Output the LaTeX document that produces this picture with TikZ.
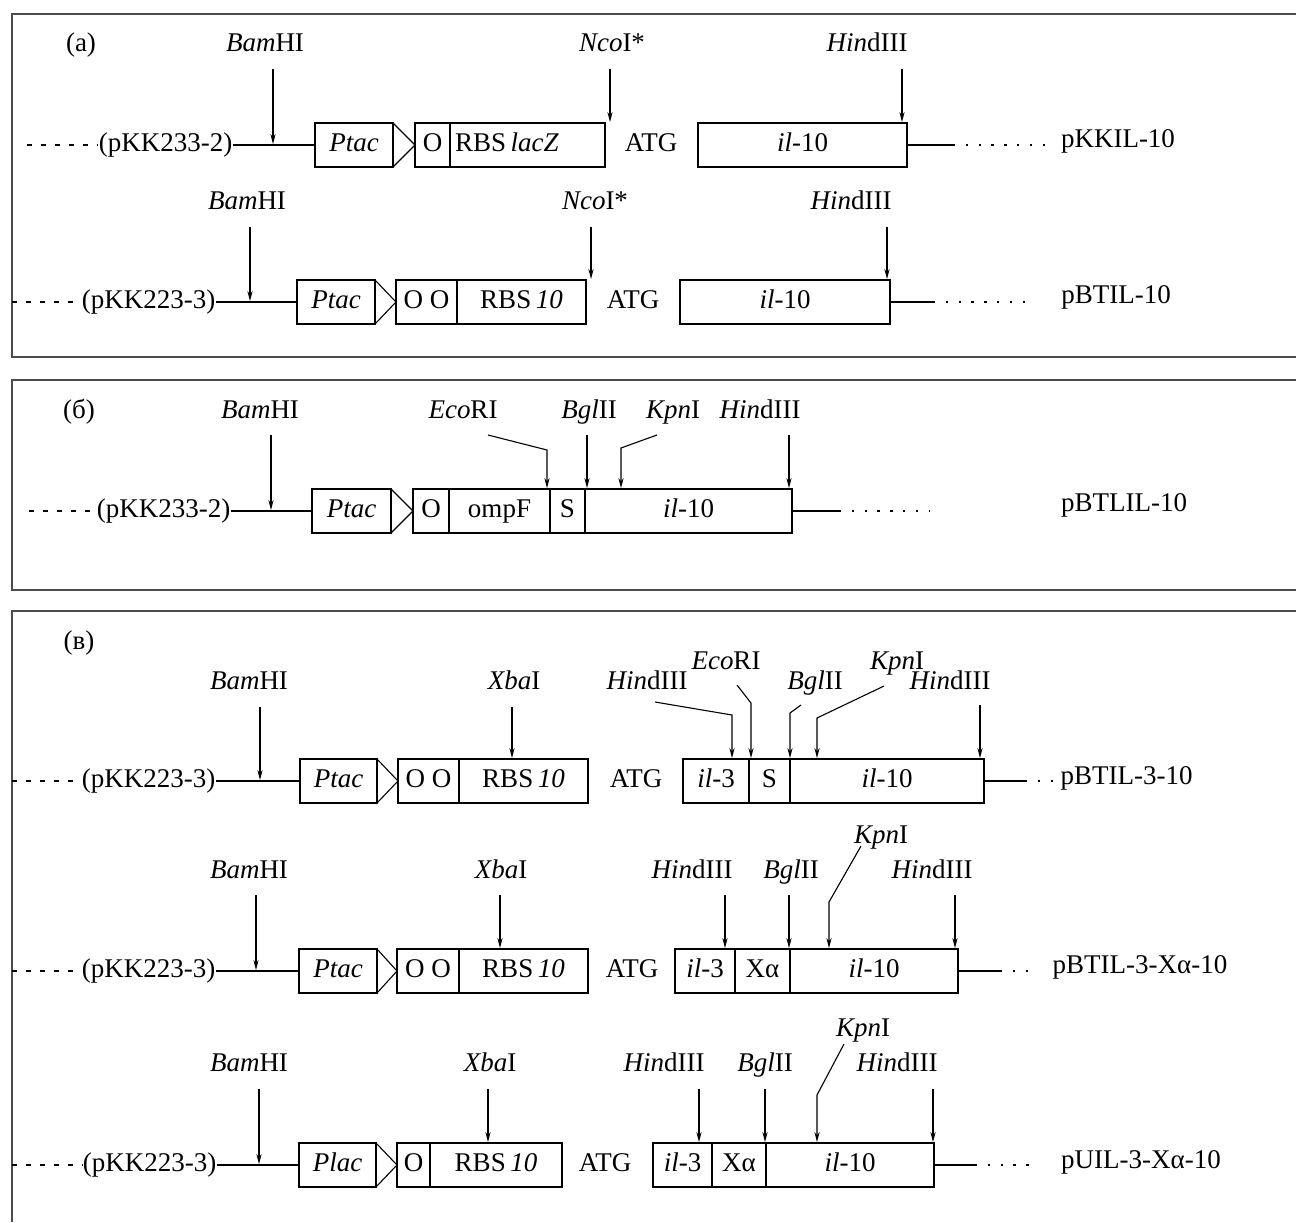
\documentclass[tikz,border=0pt]{standalone}
\usepackage{fontspec}
\setmainfont{Liberation Serif}
\usetikzlibrary{positioning,arrows.meta}

\begin{document}
\begin{tikzpicture}[x=0.5pt, y=-0.5pt, line width=0.55pt, >={Stealth[length=5pt,width=2.6pt]},
    font=\fontsize{13.5pt}{16pt}\selectfont,
    box/.style={draw, minimum height=22pt, inner sep=0pt, outer sep=0pt, anchor=west,
      text height=9.5pt, text depth=3pt},
    lbl/.style={inner sep=0pt, text height=9.5pt, text depth=3pt},
    cutarrow/.style={->, shorten >=0.5pt},
    dashleft/.style={dash pattern=on 2.5pt off 4.5pt},
    dashright/.style={dash pattern=on 1.2pt off 5.2pt},
    panel/.style={draw=black!70, line width=0.8pt}]
    \useasboundingbox (0,0) rectangle (1296,1222);
    % panel frames, open at the right edge
    \draw[panel] (1296,14) -- (12,14) -- (12,357) -- (1296,357);
    \draw[panel] (1296,380) -- (12,380) -- (12,590) -- (1296,590);
    \draw[panel] (1296,611) -- (12,611) -- (12,1222);
    \node[lbl] (pa) at (81,45) {(a)};
    \node[lbl] (pb) at (79,412) {(б)};
    \node[lbl] (pc) at (79,643) {(в)};

    % (a) upper: pKKIL-10
    \node[lbl, anchor=east] (pkkA) at (233,145) {(pKK233-2)};
    \node[box, minimum width=39pt] (ptacA) at (315,145) {\textit{Ptac}};
    \node[box, minimum width=17.5pt, right=11pt of ptacA] (oA) {O};
    \node[box, text width=72.5pt, inner xsep=2.5pt, align=left, right=0pt of oA] (rbsA) {RBS\,\textit{lacZ}};
    \node[lbl] (atgA) at (651,145) {ATG};
    \node[box, minimum width=104.5pt] (ilA) at (698,145) {\textit{il}-10};
    \node[lbl] (nameA) at (1118,141) {pKKIL-10};
    \coordinate (dA) at (27,145);
    \coordinate (eA) at (953,145);
    \coordinate (fA) at (1047,145);
    \draw[dashleft] (dA) -- (pkkA.west);
    \draw (pkkA.east) -- (ptacA.west);
    \draw (ptacA.north east) -- (oA.west) -- (ptacA.south east);
    \draw (ilA.east) -- (eA);
    \draw[dashright] (eA) -- (fA);
    \node[lbl] (bamA) at (265,45) {\textit{Bam}HI};
    \node[lbl] (ncoA) at (612,45) {\textit{Nco}I*};
    \node[lbl] (hindA) at (867,45) {\textit{Hin}dIII};
    \coordinate (bamAs) at (273,69);
    \coordinate (ncoAs) at (610,69);
    \coordinate (hindAs) at (902,69);
    \draw[cutarrow] (bamAs) -- (bamAs |- ptacA.west);
    \draw[cutarrow] (ncoAs) -- (ncoAs |- rbsA.north);
    \draw[cutarrow] (hindAs) -- (hindAs |- ilA.north);

    % (a) lower: pBTIL-10
    \node[lbl, anchor=east] (pkkB) at (216,302) {(pKK223-3)};
    \node[box, minimum width=39pt] (ptacB) at (297,302) {\textit{Ptac}};
    \node[box, minimum width=30.5pt, right=10.5pt of ptacB] (oB) {O O};
    \node[box, minimum width=64.5pt, right=0pt of oB] (rbsB) {RBS\,\textit{10}};
    \node[lbl] (atgB) at (633,302) {ATG};
    \node[box, minimum width=105pt] (ilB) at (680,302) {\textit{il}-10};
    \node[lbl] (nameB) at (1116,297) {pBTIL-10};
    \coordinate (dB) at (12,302);
    \coordinate (eB) at (933,302);
    \coordinate (fB) at (1027,302);
    \draw[dashleft] (dB) -- (pkkB.west);
    \draw (pkkB.east) -- (ptacB.west);
    \draw (ptacB.north east) -- (oB.west) -- (ptacB.south east);
    \draw (ilB.east) -- (eB);
    \draw[dashright] (eB) -- (fB);
    \node[lbl] (bamB) at (247,203) {\textit{Bam}HI};
    \node[lbl] (ncoB) at (595,203) {\textit{Nco}I*};
    \node[lbl] (hindB) at (851,203) {\textit{Hin}dIII};
    \coordinate (bamBs) at (250,227);
    \coordinate (ncoBs) at (591,227);
    \coordinate (hindBs) at (887,227);
    \draw[cutarrow] (bamBs) -- (bamBs |- ptacB.west);
    \draw[cutarrow] (ncoBs) -- (ncoBs |- rbsB.north);
    \draw[cutarrow] (hindBs) -- (hindBs |- ilB.north);

    % (b): pBTLIL-10
    \node[lbl, anchor=east] (pkkC) at (231,511) {(pKK233-2)};
    \node[box, minimum width=39.5pt] (ptacC) at (312,511) {\textit{Ptac}};
    \node[box, minimum width=18pt, right=11pt of ptacC] (oC) {O};
    \node[box, minimum width=50.5pt, right=0pt of oC] (ompC) {ompF};
    \node[box, minimum width=17.5pt, right=0pt of ompC] (sC) {S};
    \node[box, minimum width=103.5pt, right=0pt of sC] (ilC) {\textit{il}-10};
    \node[lbl] (nameC) at (1124,505) {pBTLIL-10};
    \coordinate (dC) at (29,511);
    \coordinate (eC) at (839,511);
    \coordinate (fC) at (930,511);
    \draw[dashleft] (dC) -- (pkkC.west);
    \draw (pkkC.east) -- (ptacC.west);
    \draw (ptacC.north east) -- (oC.west) -- (ptacC.south east);
    \draw (ilC.east) -- (eC);
    \draw[dashright] (eC) -- (fC);
    \node[lbl] (bamC) at (260,412) {\textit{Bam}HI};
    \node[lbl] (ecoC) at (463,412) {\textit{Eco}RI};
    \node[lbl] (bglC) at (589,412) {\textit{Bgl}II};
    \node[lbl] (kpnC) at (673,412) {\textit{Kpn}I};
    \node[lbl] (hindC) at (760,412) {\textit{Hin}dIII};
    \coordinate (bamCs) at (271,435);
    \coordinate (ecoCs) at (488,435);
    \coordinate (ecoCk) at (547,450);
    \coordinate (bglCs) at (587,435);
    \coordinate (kpnCs) at (657,435);
    \coordinate (kpnCk) at (621,448);
    \coordinate (hindCs) at (789,435);
    \draw[cutarrow] (bamCs) -- (bamCs |- ptacC.west);
    \draw[cutarrow] (ecoCs) -- (ecoCk) -- (ecoCk |- ompC.north);
    \draw[cutarrow] (bglCs) -- (bglCs |- sC.north);
    \draw[cutarrow] (kpnCs) -- (kpnCk) -- (kpnCk |- ilC.north);
    \draw[cutarrow] (hindCs) -- (hindCs |- ilC.north);

    % (c) first: pBTIL-3-10
    \node[lbl, anchor=east] (pkkD) at (216,781) {(pKK223-3)};
    \node[box, minimum width=38.5pt] (ptacD) at (300,781) {\textit{Ptac}};
    \node[box, minimum width=30.5pt, right=10.5pt of ptacD] (oD) {O O};
    \node[box, minimum width=64.5pt, right=0pt of oD] (rbsD) {RBS\,\textit{10}};
    \node[lbl] (atgD) at (636,781) {ATG};
    \node[box, minimum width=33pt] (il3D) at (683,781) {\textit{il}-3};
    \node[box, minimum width=20.5pt, right=0pt of il3D] (sD) {S};
    \node[box, minimum width=97pt, right=0pt of sD] (ilD) {\textit{il}-10};
    \node[lbl, anchor=west] (nameD) at (1060,778) {pBTIL-3-10};
    \coordinate (dD) at (12,781);
    \coordinate (eD) at (1025,781);
    \coordinate (fD) at (1058,781);
    \draw[dashleft] (dD) -- (pkkD.west);
    \draw (pkkD.east) -- (ptacD.west);
    \draw (ptacD.north east) -- (oD.west) -- (ptacD.south east);
    \draw (ilD.east) -- (eD);
    \draw[dashright] (eD) -- (fD);
    \node[lbl] (bamD) at (249,683) {\textit{Bam}HI};
    \node[lbl] (xbaD) at (514,683) {\textit{Xba}I};
    \node[lbl] (hindD) at (647,683) {\textit{Hin}dIII};
    \node[lbl] (ecoD) at (726,663) {\textit{Eco}RI};
    \node[lbl] (bglD) at (815,683) {\textit{Bgl}II};
    \node[lbl] (kpnD) at (897,663) {\textit{Kpn}I};
    \node[lbl] (hindDr) at (950,683) {\textit{Hin}dIII};
    \coordinate (bamDs) at (260,707);
    \coordinate (xbaDs) at (512,707);
    \coordinate (hindDs) at (655,702);
    \coordinate (hindDk) at (732,715);
    \coordinate (ecoDs) at (737,685);
    \coordinate (ecoDk) at (751,703);
    \coordinate (bglDs) at (801,705);
    \coordinate (bglDk) at (790,713);
    \coordinate (kpnDs) at (884,686);
    \coordinate (kpnDk) at (817,718);
    \coordinate (hindDrs) at (980,705);
    \draw[cutarrow] (bamDs) -- (bamDs |- ptacD.west);
    \draw[cutarrow] (xbaDs) -- (xbaDs |- rbsD.north);
    \draw[cutarrow] (hindDs) -- (hindDk) -- (hindDk |- il3D.north);
    \draw[cutarrow] (ecoDs) -- (ecoDk) -- (ecoDk |- sD.north);
    \draw[cutarrow] (bglDs) -- (bglDk) -- (bglDk |- ilD.north);
    \draw[cutarrow] (kpnDs) -- (kpnDk) -- (kpnDk |- ilD.north);
    \draw[cutarrow] (hindDrs) -- (hindDrs |- ilD.north);

    % (c) second: pBTIL-3-Xa-10
    \node[lbl, anchor=east] (pkkE) at (216,971) {(pKK223-3)};
    \node[box, minimum width=39pt] (ptacE) at (299,971) {\textit{Ptac}};
    \node[box, minimum width=31pt, right=10pt of ptacE] (oE) {O O};
    \node[box, minimum width=64.5pt, right=0pt of oE] (rbsE) {RBS\,\textit{10}};
    \node[lbl] (atgE) at (632,971) {ATG};
    \node[box, minimum width=30pt] (il3E) at (675,971) {\textit{il}-3};
    \node[box, minimum width=27.5pt, right=0pt of il3E] (xaE) {Xα};
    \node[box, minimum width=84pt, right=0pt of xaE] (ilE) {\textit{il}-10};
    \node[lbl] (nameE) at (1140,967) {pBTIL-3-Xα-10};
    \coordinate (dE) at (12,971);
    \coordinate (eE) at (1000,971);
    \coordinate (fE) at (1030,971);
    \draw[dashleft] (dE) -- (pkkE.west);
    \draw (pkkE.east) -- (ptacE.west);
    \draw (ptacE.north east) -- (oE.west) -- (ptacE.south east);
    \draw (ilE.east) -- (eE);
    \draw[dashright] (eE) -- (fE);
    \node[lbl] (bamE) at (249,872) {\textit{Bam}HI};
    \node[lbl] (xbaE) at (501,872) {\textit{Xba}I};
    \node[lbl] (hindE) at (692,872) {\textit{Hin}dIII};
    \node[lbl] (bglE) at (791,872) {\textit{Bgl}II};
    \node[lbl] (kpnE) at (881,837) {\textit{Kpn}I};
    \node[lbl] (hindEr) at (932,872) {\textit{Hin}dIII};
    \coordinate (bamEs) at (256,895);
    \coordinate (xbaEs) at (500,895);
    \coordinate (hindEs) at (725,895);
    \coordinate (bglEs) at (789,895);
    \coordinate (kpnEs) at (861,846);
    \coordinate (kpnEk) at (829,902);
    \coordinate (hindErs) at (955,895);
    \draw[cutarrow] (bamEs) -- (bamEs |- ptacE.west);
    \draw[cutarrow] (xbaEs) -- (xbaEs |- rbsE.north);
    \draw[cutarrow] (hindEs) -- (hindEs |- il3E.north);
    \draw[cutarrow] (bglEs) -- (bglEs |- ilE.north);
    \draw[cutarrow] (kpnEs) -- (kpnEk) -- (kpnEk |- ilE.north);
    \draw[cutarrow] (hindErs) -- (hindErs |- ilE.north);

    % (c) third: pUIL-3-Xa-10
    \node[lbl, anchor=east] (pkkF) at (217,1165) {(pKK223-3)};
    \node[box, minimum width=38.5pt] (placF) at (299,1165) {\textit{Plac}};
    \node[box, minimum width=16.5pt, right=10.5pt of placF] (oF) {O};
    \node[box, minimum width=66pt, right=0pt of oF] (rbsF) {RBS\,\textit{10}};
    \node[lbl] (atgF) at (605,1165) {ATG};
    \node[box, minimum width=29.5pt] (il3F) at (653,1165) {\textit{il}-3};
    \node[box, minimum width=27pt, right=0pt of il3F] (xaF) {Xα};
    \node[box, minimum width=84pt, right=0pt of xaF] (ilF) {\textit{il}-10};
    \node[lbl] (nameF) at (1141,1162) {pUIL-3-Xα-10};
    \coordinate (dF) at (12,1165);
    \coordinate (eF) at (975,1165);
    \coordinate (fF) at (1029,1165);
    \draw[dashleft] (dF) -- (pkkF.west);
    \draw (pkkF.east) -- (placF.west);
    \draw (placF.north east) -- (oF.west) -- (placF.south east);
    \draw (ilF.east) -- (eF);
    \draw[dashright] (eF) -- (fF);
    \node[lbl] (bamF) at (249,1065) {\textit{Bam}HI};
    \node[lbl] (xbaF) at (490,1065) {\textit{Xba}I};
    \node[lbl] (hindF) at (664,1065) {\textit{Hin}dIII};
    \node[lbl] (bglF) at (765,1065) {\textit{Bgl}II};
    \node[lbl] (kpnF) at (863,1030) {\textit{Kpn}I};
    \node[lbl] (hindFr) at (897,1065) {\textit{Hin}dIII};
    \coordinate (bamFs) at (259,1089);
    \coordinate (xbaFs) at (488,1089);
    \coordinate (hindFs) at (699,1089);
    \coordinate (bglFs) at (765,1089);
    \coordinate (kpnFs) at (844,1044);
    \coordinate (kpnFk) at (817,1095);
    \coordinate (hindFrs) at (933,1089);
    \draw[cutarrow] (bamFs) -- (bamFs |- placF.west);
    \draw[cutarrow] (xbaFs) -- (xbaFs |- rbsF.north);
    \draw[cutarrow] (hindFs) -- (hindFs |- il3F.north);
    \draw[cutarrow] (bglFs) -- (bglFs |- ilF.north);
    \draw[cutarrow] (kpnFs) -- (kpnFk) -- (kpnFk |- ilF.north);
    \draw[cutarrow] (hindFrs) -- (hindFrs |- ilF.north);
\end{tikzpicture}
\end{document}
